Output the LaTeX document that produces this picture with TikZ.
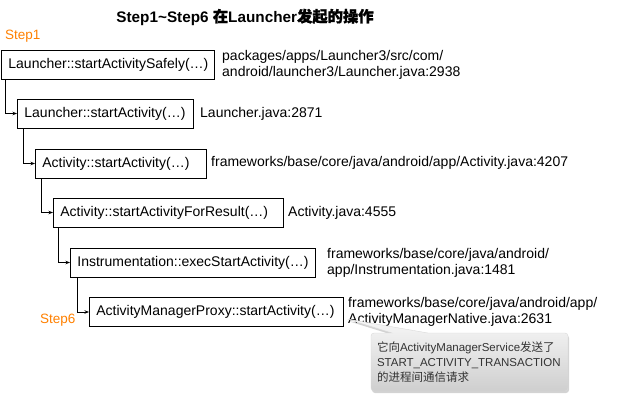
\documentclass[tikz,border=0pt]{standalone}
\usepackage{fontspec}
\setmainfont{Liberation Sans}
\newfontfamily\cjk{Noto Sans CJK SC}
\newfontfamily\cjkb[FakeBold=1.2]{Noto Sans CJK SC}
\usetikzlibrary{arrows.meta,shapes.callouts,shadows}
\definecolor{steporange}{HTML}{FF8000}
\definecolor{calltext}{HTML}{333333}
\newcommand{\bxtext}[2]{\makebox[#1][l]{#2}}
\begin{document}
\begin{tikzpicture}[x=1pt,y=-1pt,
  fn/.style={draw=black, line width=0.8pt, font=\fontsize{14}{16}\selectfont,
    inner xsep=7pt, inner ysep=0pt, minimum height=29pt, anchor=west},
  lab/.style={font=\fontsize{14}{16}\selectfont, align=left, anchor=west, inner sep=0pt},
  steplab/.style={font=\fontsize{13.5}{15}\selectfont, text=steporange, anchor=west, inner sep=0pt},
  conn/.style={-{Stealth[length=4.5pt,width=3.5pt]}, line width=0.8pt}
]
\useasboundingbox (0,0) rectangle (626,400);

\node[font=\fontsize{15.3}{18}\selectfont\bfseries] (title) at (245,17)
  {Step1\textasciitilde Step6 {\cjkb 在}Launcher{\cjkb 发起的操作}};
\node[steplab] (s1) at (5,36) {Step1};
\node[steplab] (s6) at (40,320) {Step6};

\node[fn] (b1) at (1,65) {\bxtext{199pt}{Launcher::startActivitySafely(…)}};
\node[fn] (b2) at (17,113.5) {\bxtext{162pt}{Launcher::startActivity(…)}};
\node[fn] (b3) at (35,163.5) {\bxtext{157pt}{Activity::startActivity(…)}};
\node[fn] (b4) at (53,212.5) {\bxtext{216pt}{Activity::startActivityForResult(…)}};
\node[fn] (b5) at (70,262.5) {\bxtext{231pt}{Instrumentation::execStartActivity(…)}};
\node[fn] (b6) at (89,312) {\bxtext{240pt}{ActivityManagerProxy::startActivity(…)}};

\draw[conn] ([xshift=4pt]b1.south west) |- (b2.west);
\draw[conn] ([xshift=6pt]b2.south west) |- (b3.west);
\draw[conn] ([xshift=6pt]b3.south west) |- (b4.west);
\draw[conn] ([xshift=5pt]b4.south west) |- (b5.west);
\draw[conn] ([xshift=7pt]b5.south west) |- (b6.west);

\node[lab] (l1) at (222,65) {packages/apps/Launcher3/src/com/\\android/launcher3/Launcher.java:2938};
\node[lab] (l2) at (200,114) {Launcher.java:2871};
\node[lab] (l3) at (211,163) {frameworks/base/core/java/android/app/Activity.java:4207};
\node[lab] (l4) at (288,213) {Activity.java:4555};
\node[lab] (l5) at (327,263) {frameworks/base/core/java/android/\\app/Instrumentation.java:1481};
\node[lab] (l6) at (348,312) {frameworks/base/core/java/android/app/\\ActivityManagerNative.java:2631};

\coordinate (tip) at (347,319);
\node[rectangle callout, callout absolute pointer={(tip)}, callout pointer width=36pt,
  rounded corners=3pt, top color=gray!6, bottom color=gray!38, draw=gray!30, line width=0.4pt,
  drop shadow={opacity=0.35, shadow xshift=1pt, shadow yshift=-2pt},
  minimum width=197pt, minimum height=58pt, text width=185pt, inner xsep=6pt,
  align=left, font=\fontsize{11.5}{15}\selectfont, text=calltext] (note) at (469.5,362)
  {{\cjk 它向}ActivityManagerService{\cjk 发送了}\\START\_ACTIVITY\_TRANSACTION\\{\cjk 的进程间通信请求}};
\end{tikzpicture}
\end{document}
